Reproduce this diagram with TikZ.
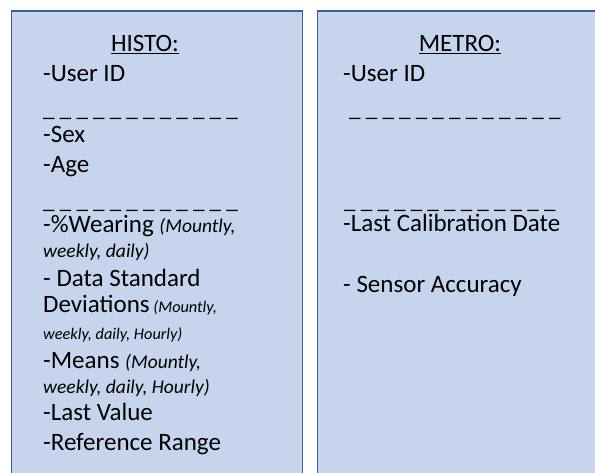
\documentclass[tikz,border=0pt]{standalone}
\usepackage{fontspec}
\setmainfont{Carlito}
\usepackage{tikz}
\usetikzlibrary{positioning}
\definecolor{tablefill}{RGB}{198,212,237}
\definecolor{tableline}{RGB}{62,94,154}

\begin{document}
\begin{tikzpicture}[x=1pt,y=-1pt,
  table/.style={draw=tableline,fill=tablefill,line width=1.3pt,anchor=north west,inner sep=0pt,minimum height=480pt},
  title/.style={anchor=base,inner sep=0pt,font=\fontsize{25}{30}\selectfont},
  field/.style={anchor=base west,inner sep=0pt,font=\fontsize{25}{30}\selectfont},
  rule/.style={anchor=base west,inner sep=0pt,font=\fontsize{23}{28}\selectfont},
  note/.style={anchor=base west,inner sep=0pt,font=\fontsize{19.5}{23}\selectfont\itshape},
  smallnote/.style={anchor=base west,inner sep=0pt,font=\fontsize{16.3}{19}\selectfont\itshape}]

\useasboundingbox (0,0) rectangle (595,473);

% define the two tables
  \node[table,minimum width=291pt] (histo) at (11,10.5) {};
  \node[table,minimum width=300pt] (metro) at (317,10.5) {};

% fields of the HISTO table
  \node[title] (histoTitle) at (145,52) {\underline{HISTO:}};
  \node[field] (histoUser)  at (43,82)  {-User ID};
  \node[rule]  (histoSepA)  at (43,117) {\_ \_ \_ \_ \_ \_ \_ \_ \_ \_ \_ \_};
  \node[field] (histoSex)   at (43,143) {-Sex};
  \node[field] (histoAge)   at (43,173) {-Age};
  \node[rule]  (histoSepB)  at (43,209) {\_ \_ \_ \_ \_ \_ \_ \_ \_ \_ \_ \_};
  \node[field] (histoWear)  at (43,233) {-\%Wearing {\fontsize{19.5}{23}\selectfont\itshape(Mountly,}};
  \node[note]  (histoWearB) at (43,258) {weekly, daily)};
  \node[field] (histoDev)   at (43,287) {- Data Standard};
  \node[field] (histoDevB)  at (43,313) {Deviations{\fontsize{16.3}{19}\selectfont\itshape\ (Mountly,}};
  \node[smallnote] (histoDevC) at (43,340) {weekly, daily, Hourly)};
  \node[field] (histoMean)  at (43,368) {-Means {\fontsize{19.5}{23}\selectfont\itshape(Mountly,}};
  \node[note]  (histoMeanB) at (43,393) {weekly, daily, Hourly)};
  \node[field] (histoLast)  at (43,420) {-Last Value};
  \node[field] (histoRange) at (43,450) {-Reference Range};

% fields of the METRO table
  \node[title] (metroTitle) at (460,52) {\underline{METRO:}};
  \node[field] (metroUser)  at (343,82)  {-User ID};
  \node[rule]  (metroSepA)  at (349,117) {\_ \_ \_ \_ \_ \_ \_ \_ \_ \_ \_ \_ \_};
  \node[rule]  (metroSepB)  at (344,209) {\_ \_ \_ \_ \_ \_ \_ \_ \_ \_ \_ \_ \_};
  \node[field] (metroCal)   at (343,232) {-Last Calibration Date};
  \node[field] (metroAcc)   at (343,293) {- Sensor Accuracy};

 \end{tikzpicture}
\end{document}
